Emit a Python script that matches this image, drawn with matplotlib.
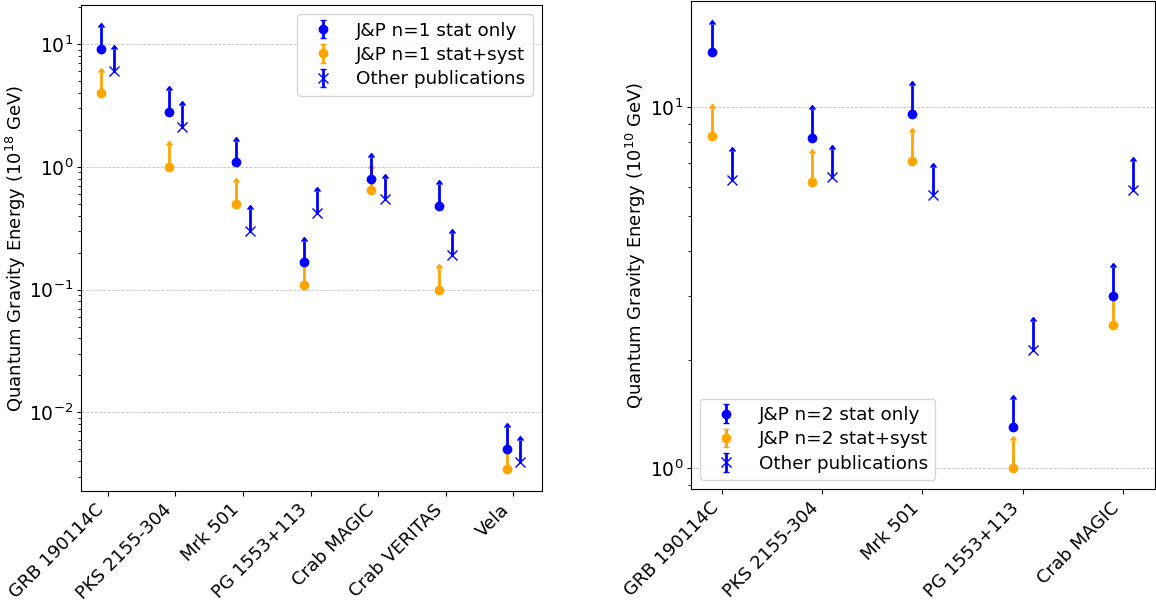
import numpy as np
import matplotlib
matplotlib.use("Agg")
import matplotlib.pyplot as plt

# ---- data: n = 1 (units of 1e18 GeV) ----
sources_n1 = ["GRB 190114C", "PKS 2155-304", "Mrk 501", "PG 1553+113",
              "Crab MAGIC", "Crab VERITAS", "Vela"]
stat_n1 = [9.16, 2.79, 1.09, 0.167, 0.794, 0.479, 0.00502]
syst_n1 = [3.97, 1.00, 0.50, 0.109, 0.646, 0.099, 0.00345]
other_n1 = [6.03, 2.12, 0.30, 0.42, 0.543, 0.191, 0.00396]

# ---- data: n = 2 (units of 1e10 GeV) ----
sources_n2 = ["GRB 190114C", "PKS 2155-304", "Mrk 501", "PG 1553+113", "Crab MAGIC"]
stat_n2 = [14.2, 8.22, 9.6, 1.30, 3.01]
syst_n2 = [8.31, 6.21, 7.1, 1.00, 2.50]
other_n2 = [6.29, 6.40, 5.71, 2.13, 5.90]

W, H = 1156, 603
fig = plt.figure(figsize=(W / 100, H / 100), dpi=100)


def px_axes(x0, y0, x1, y1):
    return fig.add_axes([x0 / W, 1 - y1 / H, (x1 - x0) / W, (y1 - y0) / H])


def eb(ax, x, y, frac, fmt, color, label, z):
    y = np.asarray(y)
    cont = ax.errorbar(x, y, yerr=frac * y, fmt=fmt, color=color, label=label,
                       lolims=True, elinewidth=2, capsize=0, zorder=z,
                       markersize=6.5 if fmt == "x" else 6)
    for cl in cont[1]:
        cl.set_markersize(4)
    return cont


def panel(ax, names, stat, syst, other, n, frac, unit, legloc, label_x):
    x = np.arange(len(names))
    eb(ax, x - 0.1, syst, frac, "o", "orange", f"J&P n={n} stat+syst", 2)
    eb(ax, x - 0.1, stat, frac, "o", "blue", f"J&P n={n} stat only", 3)
    eb(ax, x + 0.1, other, frac, "x", "blue", "Other publications", 3)
    ax.set_yscale("log")
    ax.set_xticks(x)
    ax.set_xticklabels(names, rotation=45, ha="right", fontsize=13)
    ax.tick_params(axis="y", which="major", labelsize=13.5, length=3, pad=2.5)
    ax.tick_params(axis="y", which="minor", length=2)
    ax.set_ylabel(f"Quantum Gravity Energy ($10^{{{unit}}}$ GeV)", fontsize=13)
    ax.yaxis.set_label_coords(label_x, 0.5)
    ax.grid(axis="y", which="major", linestyle="--", linewidth=0.6, color="#c4c4c4")
    h, l = ax.get_legend_handles_labels()
    order = [1, 0, 2]
    ax.legend([h[i] for i in order], [l[i] for i in order], loc=legloc,
              fontsize=13.2, labelspacing=0.35, borderpad=0.4)


ax1 = px_axes(80.7, 5, 541.7, 491)
panel(ax1, sources_n1, stat_n1, syst_n1, other_n1, 1, 0.5, 18, "upper right",
      (28 - 80.7) / 461)
ax1.set_xlim(-0.4, 6.42)
ax1.set_ylim(10 ** (-2 - 78.7 / 122.8), 10 ** (1 + 39 / 122.8))

ax2 = px_axes(691, 1, 1155, 489.3)
panel(ax2, sources_n2, stat_n2, syst_n2, other_n2, 2, 0.2, 10, "lower left",
      (648 - 691) / 464)
ax2.set_xlim(-0.31, 4.32)
ax2.set_ylim(10 ** (-21 / 361), 10 ** (1 + 106.3 / 361))

fig.savefig("out.png", dpi=100)
